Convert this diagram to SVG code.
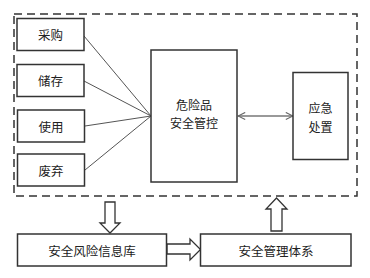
<svg xmlns="http://www.w3.org/2000/svg" width="370" height="278" viewBox="0 0 370 278">
<defs>
<style>
.box{fill:#fff;stroke:#333;stroke-width:1.5}
.t{font-family:"Noto Sans CJK SC","Liberation Sans",sans-serif;font-size:12.5px;fill:#222;text-anchor:middle;dominant-baseline:central}
.t2{font-size:12px}
.ln{stroke:#555;stroke-width:1;fill:none}
.hol{fill:#fff;stroke:#333;stroke-width:1.3}
</style>
<marker id="oa" viewBox="0 0 10 10" refX="9" refY="5" markerWidth="9" markerHeight="9" orient="auto-start-reverse" markerUnits="userSpaceOnUse">
<path d="M1,1 L9,5 L1,9" fill="none" stroke="#666" stroke-width="1.2"/>
</marker>
</defs>
<rect width="370" height="278" fill="#fff"/>
<rect id="boundary" x="14" y="14" width="343" height="182" fill="none" stroke="#333" stroke-width="1.5" stroke-dasharray="8,5"/>
<g id="connectors">
<line class="ln" x1="84" y1="36" x2="151" y2="116"/>
<line class="ln" x1="84" y1="81" x2="151" y2="116"/>
<line class="ln" x1="85" y1="126" x2="151" y2="116"/>
<line class="ln" x1="85" y1="170" x2="151" y2="116"/>
<line x1="238" y1="116" x2="293" y2="116" stroke="#777" stroke-width="1.3" marker-start="url(#oa)" marker-end="url(#oa)"/>
<path class="hol" d="M105,202 H115 V223 H120 L110,233 L100,223 H105 Z"/>
<path class="hol" d="M271,231 V209 H266 L276.5,198 L287,209 H282 V231 Z"/>
<path class="hol" d="M167,244 H190 V239 L200.5,249.5 L190,260 V254 H167 Z"/>
</g>
<g id="n-caigou"><rect class="box" x="17" y="18.5" width="67" height="32"/><text class="t" x="50.5" y="34.5">采购</text></g>
<g id="n-chucun"><rect class="box" x="17" y="64.5" width="67" height="32"/><text class="t" x="50.5" y="80.5">储存</text></g>
<g id="n-shiyong"><rect class="box" x="17.5" y="110" width="67" height="32"/><text class="t" x="51" y="126">使用</text></g>
<g id="n-feiqi"><rect class="box" x="17.5" y="154" width="67" height="32"/><text class="t" x="51" y="170">废弃</text></g>
<g id="n-center"><rect class="box" x="151" y="50" width="86" height="132"/><text class="t t2" x="194" y="104">危险品</text><text class="t t2" x="194" y="122">安全管控</text></g>
<g id="n-yingji"><rect class="box" x="293" y="72.5" width="55" height="87"/><text class="t t2" x="320.5" y="107">应急</text><text class="t t2" x="320.5" y="126">处置</text></g>
<g id="n-db"><rect class="box" x="17.5" y="234" width="149" height="32"/><text class="t" x="92" y="250">安全风险信息库</text></g>
<g id="n-sys"><rect class="box" x="200.5" y="234" width="150.5" height="32"/><text class="t" x="276" y="250">安全管理体系</text></g>
</svg>
